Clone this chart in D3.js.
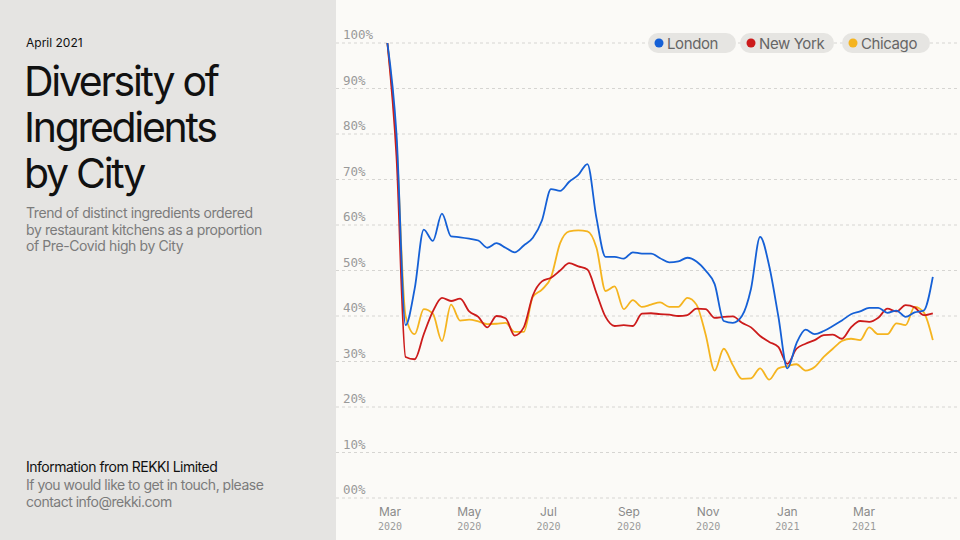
<!DOCTYPE html>
<html><head><meta charset="utf-8">
<script src="https://cdn.jsdelivr.net/npm/d3@7"></script>
<style>body{margin:0}svg{display:block;font-family:Inter,"Noto Sans",sans-serif}</style>
</head><body><svg id="c" width="960" height="540"></svg>
<script>
// weekly samples starting 28 Feb 2020
var startDate = new Date(2020, 1, 28);
var london = [100,80,38,46,59,56.5,62.5,57.5,57.3,57,56.6,55,56,55,54,55.5,57.2,61,67.9,67.5,69.5,71,73.4,61.5,53,53,52.6,54,53.7,53.7,52.7,51.8,52,52.8,52,50,47,38.9,38.5,40,46,57.4,51,40,28.5,34,37,36,36.7,37.8,39,40.4,41,41.8,41.8,40.7,41.2,39.8,40.8,41.2,48.6];
var newYork = [100,75,31,30.5,36,41,44,43.3,43.8,41,39.8,37.5,40,39.5,35.7,37.5,44.5,47.6,48.4,50,51.6,50.9,50.2,45,39.8,37.8,38,37.8,40.5,40.6,40.4,40.3,40,40.2,41.6,41.5,39.6,39.8,39.9,38.5,37.5,35.6,34.3,33.2,29.5,32.8,33.9,34.7,35.8,35.9,35,37.5,38.9,38.7,39.6,41.6,41,42.4,41.9,40.2,40.6];
var chicago = [100,78,40,36,41.5,40.5,34.5,42.5,39,39.2,38.8,38.2,38.3,38.5,36.5,36.5,44.2,45.8,48.5,56,58.6,58.8,58.6,55,45.5,46.5,41.5,43.5,42,42.5,43,42,42,44,42.5,36,28,32.8,29.2,26.2,26.3,28.5,26,28.5,29,29.4,28,28.8,31,32.8,34.5,35,34.7,37.5,36,36,38.4,38,42,40.8,34.7];
var cities = ["London","New York","Chicago"];
var colors = ["#1560d6","#cc1b1b","#f5b41f"];
var yTicks = [0,10,20,30,40,50,60,70,80,90,100];
var xTicks = [new Date(2020,2,1),new Date(2020,4,1),new Date(2020,6,1),new Date(2020,8,1),new Date(2020,10,1),new Date(2021,0,1),new Date(2021,2,1)];

var svg = d3.select("#c");
svg.append("rect").attr("width",336).attr("height",540).attr("fill","#e5e4e2");
svg.append("rect").attr("x",336).attr("width",624).attr("height",540).attr("fill","#fbfaf7");

// left panel text
svg.append("text").attr("x",26).attr("y",47).attr("font-size",12).attr("fill","#111").text("April 2021");
var title = ["Diversity of","Ingredients","by City"];
title.forEach(function(t,i){
  svg.append("text").attr("x",24).attr("y",96+i*46).attr("font-size",41).attr("letter-spacing",-2.3).attr("fill","#111").text(t);
});
var sub = ["Trend of distinct ingredients ordered","by restaurant kitchens as a proportion","of Pre-Covid high by City"];
sub.forEach(function(t,i){
  svg.append("text").attr("x",26).attr("y",218+i*16.5).attr("font-size",14).attr("letter-spacing",-0.4).attr("fill","#7b7b7b").text(t);
});
svg.append("text").attr("x",26).attr("y",472).attr("font-size",14).attr("letter-spacing",-0.5).attr("fill","#111").text("Information from REKKI Limited");
["If you would like to get in touch, please","contact info@rekki.com"].forEach(function(t,i){
  svg.append("text").attr("x",26).attr("y",490+i*16.5).attr("font-size",14).attr("letter-spacing",-0.5).attr("fill","#7b7b7b").text(t);
});

var x = d3.scaleTime().domain([new Date(2020,2,1),new Date(2021,2,1)]).range([390,864]);
var y = d3.scaleLinear().domain([0,100]).range([498,43]);

var g = svg.append("g");
yTicks.forEach(function(v){
  g.append("line").attr("x1",336).attr("x2",960).attr("y1",y(v)).attr("y2",y(v))
    .attr("stroke","#d6d5d2").attr("stroke-dasharray","3,3");
  g.append("text").attr("x",343).attr("y",y(v)-4).attr("font-family","DejaVu Sans Mono")
    .attr("font-size",12.5).attr("fill","#999").text((v<10?"0":"")+v+"%");
});
var mf = d3.timeFormat("%b"), yf = d3.timeFormat("%Y");
xTicks.forEach(function(d){
  g.append("text").attr("x",x(d)).attr("y",516).attr("text-anchor","middle").attr("font-size",12).attr("fill","#8a8a8a").text(mf(d));
  g.append("text").attr("x",x(d)).attr("y",530).attr("text-anchor","middle").attr("font-family","DejaVu Sans Mono").attr("font-size",10).attr("fill","#9a9a9a").text(yf(d));
});

var line = d3.line().x(function(d,i){return x(d3.timeDay.offset(startDate,i*7));}).y(function(d){return y(d);}).curve(d3.curveMonotoneX);
[chicago,newYork,london].forEach(function(s,k){
  svg.append("path").attr("d",line(s)).attr("fill","none").attr("stroke",colors[2-k]).attr("stroke-width",1.8);
});

// legend
var lx = [648,740,842], lw = [88,94,88];
cities.forEach(function(c,i){
  var lg = svg.append("g").attr("transform","translate("+lx[i]+",33)");
  lg.append("rect").attr("width",lw[i]).attr("height",20).attr("rx",10).attr("fill","#e6e5e2");
  lg.append("circle").attr("cx",11).attr("cy",10).attr("r",4.5).attr("fill",colors[i]);
  lg.append("text").attr("x",19).attr("y",15.5).attr("font-size",15).attr("letter-spacing",-0.4).attr("fill","#666").text(c);
});
</script></body></html>
